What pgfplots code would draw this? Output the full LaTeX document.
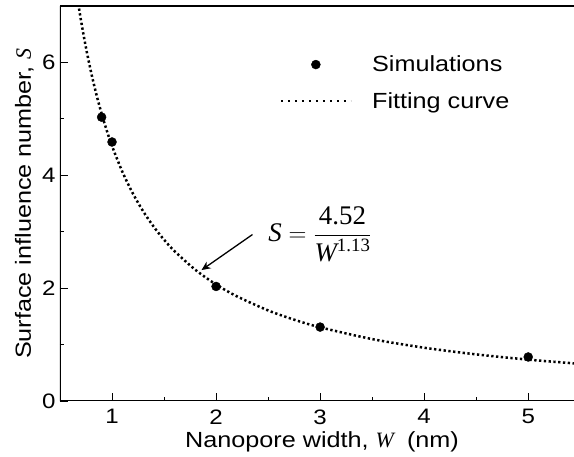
\documentclass[border=0pt]{standalone}
\usepackage{amsmath}
\usepackage{pgfplots}
\pgfplotsset{compat=1.18}
\usetikzlibrary{arrows.meta}
\usepackage{fontspec}
\setmainfont{Liberation Sans}[FakeStretch=1.15]
\newfontfamily\tnr{Liberation Serif}
\pgfplotsset{
  markleg/.style={legend image code/.code={\draw[mark repeat=2,mark phase=2,##1] plot coordinates {(0bp,0bp) (35bp,0bp) (70bp,0bp)};}},
  lineleg/.style={legend image code/.code={\draw[##1, dash pattern=on 2.6bp off 4.4bp] (0bp,0bp) -- (70bp,0bp);}},
}
\begin{document}
\begin{tikzpicture}
\begin{axis}[
  name=ax,
  scale only axis,
  width=514bp, height=395bp,
  xmin=0.5, xmax=5.44, ymin=0, ymax=7,
  axis line style={draw=none},
  xtick={1,2,3,4,5}, ytick={0,2,4,6},
  minor xtick={1.5,2.5,3.5,4.5}, minor ytick={1,3,5},
  xtick pos=bottom, ytick pos=left,
  tick align=inside,
  major tick length=8bp, minor tick length=4bp,
  tick style={line width=0.9bp, black},
  /pgf/number format/assume math mode=true,
  ticklabel style={font=\fontsize{21}{24}\selectfont},
  xticklabel style={yshift=-5bp},
  yticklabel style={xshift=-1bp},
  label style={font=\fontsize{22}{26}\selectfont},
  xlabel={Nanopore width, {\tnr\itshape W}\; (nm)},
  ylabel={Surface influence number, {\tnr\itshape S}},
  xlabel style={at={(rel axis cs:0.5,0)}, anchor=base, yshift=-47bp, xshift=5bp},
  ylabel style={at={(rel axis cs:0,0.5)}, anchor=base, yshift=29bp},
  legend style={draw=none, fill=none, at={(axis cs:2.58,6.19)}, anchor=north west,
    font=\fontsize{22}{26}\selectfont, row sep=15bp, column sep=18bp},
  legend cell align=left,
]
\draw[line width=1.2bp] (rel axis cs:0,1) -- (rel axis cs:0,0) -- (rel axis cs:1,0);
\draw[line width=1.2bp] (rel axis cs:0,1) -- (rel axis cs:1,1);
\addplot[only marks, mark=*, mark size=4.5bp, black, markleg]
  coordinates {(0.9,5.03) (1.0,4.59) (2.0,2.03) (3.0,1.31) (5.0,0.78)};
\addlegendentry{Simulations}
\addplot[black, line width=2.5bp, dash pattern=on 2.3bp off 2.5bp, smooth, lineleg]
  coordinates {
  (0.6,8.05) (0.65,7.355) (0.7,6.764) (0.75,6.257) (0.8,5.816) (0.85,5.431)
  (0.9,5.091) (0.95,4.790) (1.0,4.52) (1.1,4.059) (1.2,3.679) (1.3,3.360)
  (1.4,3.090) (1.5,2.858) (1.6,2.658) (1.8,2.326) (2.0,2.065) (2.2,1.855)
  (2.5,1.605) (2.75,1.441) (3.0,1.306) (3.5,1.097) (4.0,0.944) (4.5,0.826)
  (5.0,0.733) (5.44,0.667)};
\addlegendentry{Fitting curve}
\draw[-{Stealth[length=9bp,width=8bp]}, line width=1.3bp] (axis cs:2.35,2.95) -- (axis cs:1.86,2.32);
\node[anchor=west, inner sep=0pt, font=\fontsize{27}{30}\selectfont\tnr] at (axis cs:2.50,2.95)
  {$\text{\itshape S}\;{=}\;\dfrac{\text{4.52}}{\text{\itshape W}^{\text{1.13}}}$};
\end{axis}
\pgfresetboundingbox
\path[use as bounding box] ([xshift=-60bp,yshift=-56bp]ax.south west) rectangle ([yshift=6bp]ax.north east);
\end{tikzpicture}
\end{document}
